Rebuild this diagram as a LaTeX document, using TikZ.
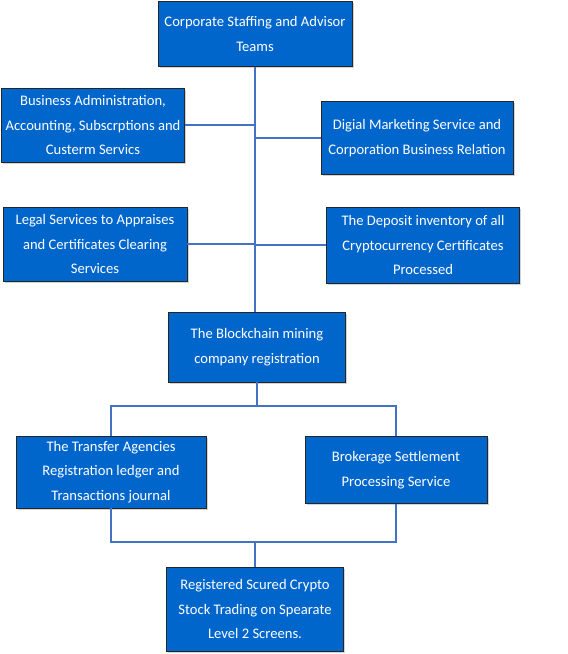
\documentclass[tikz,border=0pt]{standalone}
\usepackage{fontspec}
\setmainfont{Carlito}
\usetikzlibrary{shadows}
\definecolor{boxblue}{HTML}{0066CC}
\definecolor{linkblue}{HTML}{4472C4}
\begin{document}
\begin{tikzpicture}[x=1pt, y=-1pt,
    unitbox/.style={draw=black!85, fill=boxblue, text=white, align=center,
      inner sep=0pt, line width=0.8pt,
      font=\fontsize{14.6}{24.5}\selectfont,
      drop shadow={shadow xshift=1.5pt, shadow yshift=-1.5pt, fill=black!35}},
    link/.style={draw=linkblue, line width=1.2pt}]
    % Fix the page to the size of the reference
    \useasboundingbox (0,0) rectangle (568,654);

    % Top of the chart
    \node[unitbox, minimum width=194pt, minimum height=65pt] (staff) at (255,34)
      {Corporate Staffing and Advisor\\Teams};

    % Service teams on both sides of the trunk
    \node[unitbox, minimum width=183pt, minimum height=74pt] (admin) at (93,125)
      {Business Administration,\\Accounting, Subscrptions and\\Custerm Servics};
    \node[unitbox, minimum width=192pt, minimum height=73pt] (market) at (417,138)
      {Digial Marketing Service and\\Corporation Business Relation};
    \node[unitbox, minimum width=184pt, minimum height=74pt] (legal) at (95,244)
      {Legal Services to Appraises\\and Certificates Clearing\\Services};
    \node[unitbox, minimum width=193pt, minimum height=76pt] (deposit) at (423,245)
      {The Deposit inventory of all\\Cryptocurrency Certificates\\Processed};

    % Registration in the middle
    \node[unitbox, minimum width=177pt, minimum height=70pt] (mining) at (257,347)
      {The Blockchain mining\\company registration};

    % Ledger and settlement
    \node[unitbox, minimum width=190pt, minimum height=72pt] (ledger) at (111,472)
      {The Transfer Agencies\\Registration ledger and\\Transactions journal};
    \node[unitbox, minimum width=182pt, minimum height=67pt] (settle) at (396,470)
      {Brokerage Settlement\\Processing Service};

    % Bottom of the chart
    \node[unitbox, minimum width=177pt, minimum height=84pt] (trading) at (255,609)
      {Registered Scured Crypto\\Stock Trading on Spearate\\Level 2 Screens.};

    % Trunk and its branches
    \draw[link] (staff.south) -- (mining.north -| staff.south) coordinate (trunk);
    \draw[link] (admin.east) -- (admin.east -| staff.south);
    \draw[link] (market.west) -- (market.west -| staff.south);
    \draw[link] (legal.east) -- (legal.east -| staff.south);
    \draw[link] (deposit.west) -- (deposit.west -| staff.south);

    % Split below the registration
    \coordinate (split) at (257,406);
    \draw[link] (mining.south) -- (split);
    \draw[link] (ledger.north) |- (split) -| (settle.north);

    % Join above the trading box
    \coordinate (merge) at (255,542);
    \draw[link] (ledger.south) |- (merge) -| (settle.south);
    \draw[link] (merge) -- (trading.north);
\end{tikzpicture}
\end{document}
